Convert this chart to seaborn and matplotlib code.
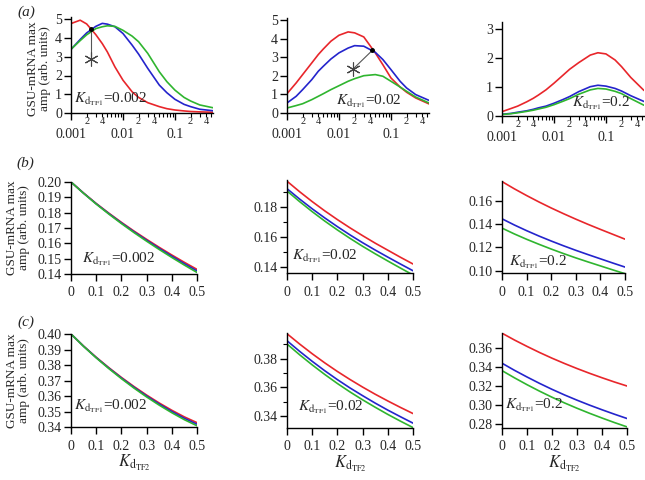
import matplotlib
matplotlib.use('Agg')
import matplotlib.pyplot as plt
import matplotlib.ticker as mticker
import seaborn as sns

# row (a): max amplitude vs K_dTF2 (log axis), one panel per K_dTF1
kd_tf2_log = [0.001, 0.0015, 0.002, 0.003, 0.004, 0.005, 0.007, 0.01, 0.015,
              0.02, 0.03, 0.05, 0.07, 0.1, 0.15, 0.2, 0.3, 0.54]

a1_red = [4.77, 4.95, 4.75, 4.18, 3.7, 3.26, 2.46, 1.75, 1.13, 0.83, 0.55, 0.34, 0.23, 0.16, 0.11, 0.08, 0.06, 0.04]
a1_blue = [3.39, 3.92, 4.27, 4.62, 4.78, 4.74, 4.6, 4.24, 3.62, 3.14, 2.38, 1.49, 1.08, 0.73, 0.46, 0.34, 0.2, 0.12]
a1_green = [3.4, 3.86, 4.17, 4.5, 4.6, 4.65, 4.62, 4.41, 4.1, 3.8, 3.18, 2.2, 1.67, 1.22, 0.83, 0.64, 0.43, 0.28]

a2_red = [1.04, 1.62, 2.07, 2.7, 3.15, 3.45, 3.87, 4.19, 4.37, 4.32, 4.1, 3.24, 2.6, 1.89, 1.4, 1.12, 0.81, 0.49]
a2_blue = [0.54, 0.9, 1.26, 1.8, 2.25, 2.52, 2.91, 3.24, 3.5, 3.63, 3.6, 3.27, 2.88, 2.34, 1.71, 1.35, 0.99, 0.68]
a2_green = [0.27, 0.4, 0.5, 0.72, 0.9, 1.04, 1.26, 1.47, 1.71, 1.85, 2.01, 2.07, 1.98, 1.71, 1.4, 1.17, 0.86, 0.54]

a3_red = [0.15, 0.26, 0.34, 0.49, 0.61, 0.72, 0.9, 1.13, 1.41, 1.61, 1.84, 2.1, 2.18, 2.14, 1.93, 1.7, 1.33, 0.88]
a3_blue = [0.06, 0.09, 0.13, 0.18, 0.23, 0.28, 0.34, 0.44, 0.57, 0.67, 0.84, 1.01, 1.06, 1.03, 0.95, 0.86, 0.7, 0.5]
a3_green = [0.05, 0.08, 0.11, 0.16, 0.2, 0.24, 0.3, 0.39, 0.51, 0.6, 0.75, 0.9, 0.95, 0.93, 0.85, 0.77, 0.6, 0.37]

# rows (b) and (c): max amplitude vs K_dTF2 (linear axis)
kd_tf2_lin = [0.0, 0.05, 0.1, 0.15, 0.2, 0.25, 0.3, 0.35, 0.4, 0.45, 0.5]

b1_red = [0.2000, 0.1928, 0.1860, 0.1797, 0.1737, 0.1680, 0.1626, 0.1574, 0.1524, 0.1476, 0.1430]
b1_blue = [0.2000, 0.1927, 0.1858, 0.1794, 0.1733, 0.1675, 0.1620, 0.1567, 0.1516, 0.1467, 0.1420]
b1_green = [0.2000, 0.1926, 0.1856, 0.1791, 0.1729, 0.1670, 0.1614, 0.1560, 0.1508, 0.1458, 0.1410]

b2_red = [0.1970, 0.1900, 0.1834, 0.1772, 0.1714, 0.1659, 0.1607, 0.1557, 0.1510, 0.1463, 0.1418]
b2_blue = [0.1920, 0.1851, 0.1786, 0.1725, 0.1667, 0.1612, 0.1560, 0.1511, 0.1464, 0.1418, 0.1373]
b2_green = [0.1905, 0.1834, 0.1767, 0.1704, 0.1645, 0.1589, 0.1536, 0.1486, 0.1438, 0.1391, 0.1345]

b3_red = [0.1766, 0.1704, 0.1646, 0.1591, 0.1539, 0.1490, 0.1443, 0.1398, 0.1355, 0.1313, 0.1271]
b3_blue = [0.1446, 0.1393, 0.1344, 0.1298, 0.1255, 0.1214, 0.1175, 0.1138, 0.1102, 0.1066, 0.1031]
b3_green = [0.1366, 0.1316, 0.1270, 0.1227, 0.1186, 0.1147, 0.1110, 0.1075, 0.1041, 0.1007, 0.0974]

c1_red = [0.4000, 0.3922, 0.3850, 0.3783, 0.3720, 0.3661, 0.3606, 0.3555, 0.3508, 0.3465, 0.3428]
c1_blue = [0.4000, 0.3921, 0.3848, 0.3780, 0.3716, 0.3656, 0.3600, 0.3548, 0.3500, 0.3456, 0.3418]
c1_green = [0.4000, 0.3920, 0.3846, 0.3777, 0.3712, 0.3651, 0.3594, 0.3541, 0.3492, 0.3447, 0.3408]

c2_red = [0.3975, 0.3903, 0.3835, 0.3771, 0.3711, 0.3655, 0.3602, 0.3552, 0.3505, 0.3460, 0.3417]
c2_blue = [0.3926, 0.3852, 0.3782, 0.3716, 0.3654, 0.3596, 0.3542, 0.3490, 0.3441, 0.3395, 0.3350]
c2_green = [0.3903, 0.3828, 0.3757, 0.3690, 0.3627, 0.3568, 0.3513, 0.3461, 0.3411, 0.3364, 0.3319]

c3_red = [0.3758, 0.3686, 0.3619, 0.3555, 0.3495, 0.3439, 0.3386, 0.3336, 0.3289, 0.3244, 0.3202]
c3_blue = [0.3442, 0.3367, 0.3297, 0.3230, 0.3167, 0.3108, 0.3053, 0.3001, 0.2952, 0.2905, 0.2860]
c3_green = [0.3364, 0.3288, 0.3216, 0.3148, 0.3084, 0.3024, 0.2968, 0.2915, 0.2865, 0.2817, 0.2772]

kd_tf1_labels = ['0.002', '0.02', '0.2']

# asterisk annotations in row (a): (x_star, y_star, x_dot, y_dot)
star_a1 = (0.0024, 2.87, 0.0024, 4.5)
star_a2 = (0.019, 2.39, 0.044, 3.38)

RED, BLUE, GREEN = '#e8262b', '#2424cc', '#2fb52f'

sns.set_style('ticks')
plt.rcParams['font.family'] = ['Liberation Serif', 'DejaVu Serif']
plt.rcParams['mathtext.fontset'] = 'stix'

W, H = 645, 480
fig = plt.figure(figsize=(W / 100, H / 100), dpi=100)


def make_ax(left, right, top, bottom):
    return fig.add_axes([left / W, 1 - bottom / H, (right - left) / W, (bottom - top) / H])


def style_ax(ax):
    sns.despine(ax=ax)
    for s in ['left', 'bottom']:
        ax.spines[s].set_linewidth(1.0)
        ax.spines[s].set_color('black')
    ax.tick_params(which='major', direction='out', length=5, width=1, color='black',
                   labelsize=10, pad=1.5)
    ax.tick_params(which='minor', direction='out', length=3, width=0.8, color='black')
    ax.set_xlabel('')
    ax.set_ylabel('')


def draw(ax, x, red, blue, green):
    sns.lineplot(x=x, y=red, color=RED, lw=1.2, ax=ax)
    sns.lineplot(x=x, y=blue, color=BLUE, lw=1.2, ax=ax)
    sns.lineplot(x=x, y=green, color=GREEN, lw=1.2, ax=ax)


def kd_text(ax, xf, yf, val):
    ax.text(xf, yf, r'$K_{\mathrm{d}_{\mathrm{TF1}}}$=' + val, transform=ax.transAxes,
            fontsize=11, va='baseline', ha='left')


def minor_fmt(v, pos):
    m = v / 10 ** int(f'{v:e}'.split('e')[1])
    if abs(m - 2) < 0.01:
        return '2'
    if abs(m - 4) < 0.01:
        return '4'
    return ''


# ---- row (a)
row_a = [
    ((71, 213, 17, 113), (a1_red, a1_blue, a1_green), 5.12, range(6), (0.02, 0.115)),
    ((287, 429, 18, 113), (a2_red, a2_blue, a2_green), 5.12, range(6), (0.345, 0.085)),
    ((502, 644, 22, 116), (a3_red, a3_blue, a3_green), 3.24, range(4), (0.49, 0.106)),
]
axes_a = []
for i, (box, series, ytop, yt, tpos) in enumerate(row_a):
    ax = make_ax(*box)
    draw(ax, kd_tf2_log, *series)
    ax.set_xscale('log')
    ax.set_xlim(0.001, 0.54)
    ax.set_ylim(0, ytop)
    ax.set_yticks(list(yt))
    ax.xaxis.set_major_locator(mticker.LogLocator(base=10, numticks=10))
    ax.xaxis.set_major_formatter(mticker.FuncFormatter(lambda v, p: f'{v:g}'))
    ax.xaxis.set_minor_locator(mticker.LogLocator(base=10, subs=range(2, 10), numticks=10))
    ax.xaxis.set_minor_formatter(mticker.FuncFormatter(minor_fmt))
    style_ax(ax)
    ax.tick_params(axis='x', which='major', pad=6)
    ax.tick_params(axis='x', which='minor', labelsize=7.5, pad=0)
    kd_text(ax, tpos[0], tpos[1], kd_tf1_labels[i])
    axes_a.append(ax)

# asterisks and connecting lines
for ax, (xs, ys, xd, yd) in zip(axes_a[:2], [star_a1, star_a2]):
    ax.plot([xs, xd], [ys, yd], color='#555555', lw=0.8)
    ax.plot([xd], [yd], 'o', color='black', ms=2.5)
    ax.plot([xs], [ys], marker=(6, 2, 0), color='#444444', ms=10, mew=0.8)

# ---- rows (b) and (c)
row_b = [
    ((71, 197, 182, 274), (b1_red, b1_blue, b1_green), (0.14, 0.20),
     [0.14, 0.15, 0.16, 0.17, 0.18, 0.19, 0.20], [], (0.087, 0.13)),
    ((287, 413, 180, 273), (b2_red, b2_blue, b2_green), (0.1358, 0.1978),
     [0.14, 0.16, 0.18], [0.15, 0.17, 0.19], (0.04, 0.15)),
    ((502, 625, 181, 273), (b3_red, b3_blue, b3_green), (0.098, 0.1771),
     [0.10, 0.12, 0.14, 0.16], [], (0.057, 0.087)),
]
row_c = [
    ((71, 197, 334, 427), (c1_red, c1_blue, c1_green), (0.34, 0.40),
     [0.34, 0.35, 0.36, 0.37, 0.38, 0.39, 0.40], [], (0.024, 0.19)),
    ((287, 413, 333, 428), (c2_red, c2_blue, c2_green), (0.3316, 0.398),
     [0.34, 0.36, 0.38], [0.35, 0.37, 0.39], (0.087, 0.18)),
    ((502, 627, 333, 428), (c3_red, c3_blue, c3_green), (0.276, 0.376),
     [0.28, 0.30, 0.32, 0.34, 0.36], [], (0.024, 0.21)),
]
for r, rows in enumerate([row_b, row_c]):
    for i, (box, series, ylim, yt, ymin, tpos) in enumerate(rows):
        ax = make_ax(*box)
        draw(ax, kd_tf2_lin, *series)
        ax.set_xlim(0, 0.5)
        ax.set_ylim(*ylim)
        ax.set_xticks([0, 0.1, 0.2, 0.3, 0.4, 0.5])
        ax.xaxis.set_major_formatter(mticker.FuncFormatter(lambda v, p: f'{v:g}'))
        ax.set_yticks(yt)
        ax.yaxis.set_major_formatter(mticker.FormatStrFormatter('%.2f'))
        ax.set_yticks(ymin, minor=True)
        style_ax(ax)
        ax.tick_params(axis='x', which='major', pad=4)
        kd_text(ax, tpos[0], tpos[1], kd_tf1_labels[i])
        if r == 1:
            ax.set_xlabel(r'$K_{\mathrm{d}_{\mathrm{TF2}}}$', fontsize=12, labelpad=0)

# y labels and panel letters
for xc, yc in [(39, 69), (18, 228), (18, 381)]:
    fig.text(xc / W, 1 - yc / H, 'GSU-mRNA max\namp (arb. units)', rotation=90,
             ha='center', va='center', fontsize=9.5, linespacing=1.05)
for letter, (px, py) in zip('abc', [(17, 12), (16, 163), (17, 322)]):
    fig.text(px / W, 1 - py / H, '(' + letter + ')', fontsize=11, style='italic',
             ha='left', va='center')

fig.savefig('out.png', dpi=100)
